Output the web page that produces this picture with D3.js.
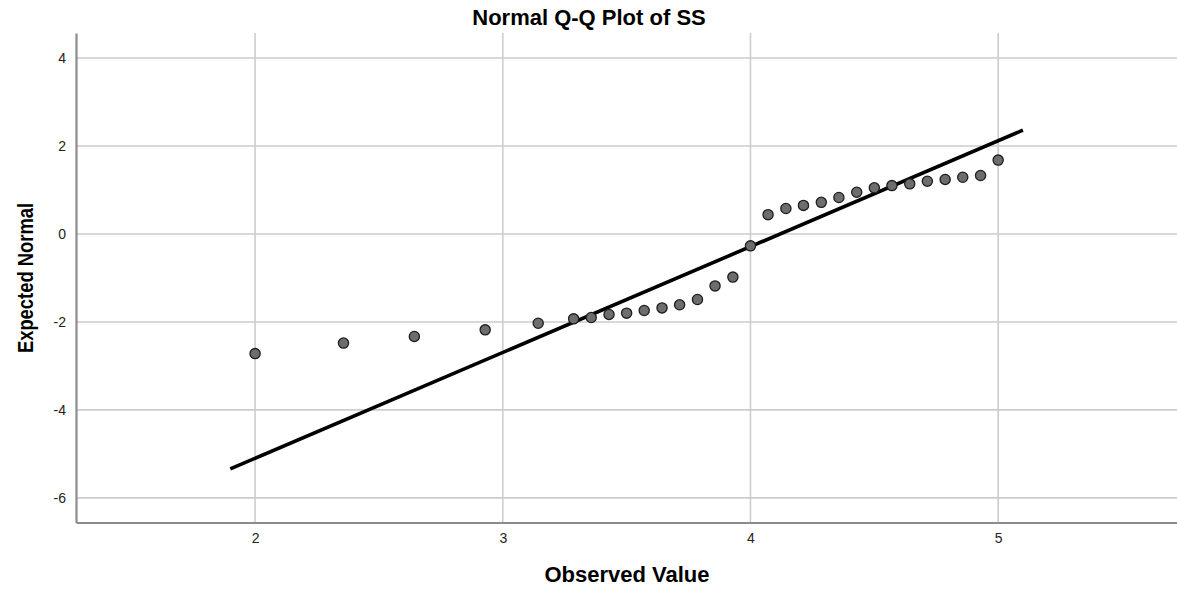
<!DOCTYPE html>
<html>
<head>
<meta charset="utf-8">
<script src="https://cdn.jsdelivr.net/npm/d3@7"></script>
<style>
  html, body { margin: 0; padding: 0; background: #fff; }
  svg { display: block; font-family: "Liberation Sans", Arial, sans-serif; }
</style>
</head>
<body>
<svg id="chart" width="1177" height="590"></svg>
<script>
// Observed values of SS (sorted) and their expected normal scores
const observed = [
  2.000, 2.357, 2.643, 2.929, 3.143, 3.286, 3.357, 3.429, 3.500, 3.571,
  3.643, 3.714, 3.786, 3.857, 3.929, 4.000, 4.071, 4.143, 4.214, 4.286,
  4.357, 4.429, 4.500, 4.571, 4.643, 4.714, 4.786, 4.857, 4.929, 5.000
];
const expectedNormal = [
  -2.72, -2.48, -2.33, -2.18, -2.03, -1.93, -1.90, -1.83, -1.80, -1.74,
  -1.68, -1.61, -1.49, -1.18, -0.98, -0.27, 0.44, 0.58, 0.65, 0.72,
  0.83, 0.95, 1.05, 1.10, 1.14, 1.20, 1.24, 1.29, 1.33, 1.68
];

// Reference line endpoints (observed, expected)
const refLineX = [1.90, 5.10];
const refLineY = [-5.34, 2.36];

const xTicks = [2, 3, 4, 5];
const yTicks = [-6, -4, -2, 0, 2, 4];
const xDomain = [1.277, 5.722];
const yDomain = [-6.56, 4.57];

const titleText = "Normal Q-Q Plot of SS";
const xLabel = "Observed Value";
const yLabel = "Expected Normal";

const plot = { left: 76, right: 1177, top: 33, bottom: 522.5 };

const svg = d3.select("#chart");

const x = d3.scaleLinear().domain(xDomain).range([plot.left, plot.right]);
const y = d3.scaleLinear().domain(yDomain).range([plot.bottom, plot.top]);

// Grid lines
const grid = svg.append("g");
grid.selectAll("line.h").data(yTicks).join("line")
  .attr("x1", plot.left).attr("x2", plot.right)
  .attr("y1", d => y(d)).attr("y2", d => y(d))
  .attr("stroke", "#cdcdcd").attr("stroke-width", 1.6);
grid.selectAll("line.v").data(xTicks).join("line")
  .attr("y1", plot.top).attr("y2", plot.bottom)
  .attr("x1", d => x(d)).attr("x2", d => x(d))
  .attr("stroke", "#cdcdcd").attr("stroke-width", 1.6);

// Axes (labels only, no tick marks)
const xAxis = svg.append("g")
  .attr("transform", `translate(0,${plot.bottom})`)
  .call(d3.axisBottom(x).tickValues(xTicks).tickSize(0).tickPadding(11).tickFormat(d3.format("d")));
const yAxis = svg.append("g")
  .attr("transform", `translate(${plot.left},0)`)
  .call(d3.axisLeft(y).tickValues(yTicks).tickSize(0).tickPadding(10).tickFormat(d => d < 0 ? "-" + Math.abs(d) : String(d)));

[xAxis, yAxis].forEach(g => {
  g.select(".domain").attr("stroke", "#8c8c8c").attr("stroke-width", 2.2);
  g.selectAll("text")
    .attr("fill", "#222")
    .style("font-size", "14px")
    .style("font-family", "'Liberation Sans', Arial, sans-serif");
});

// Reference line
svg.append("line")
  .attr("x1", x(refLineX[0])).attr("y1", y(refLineY[0]))
  .attr("x2", x(refLineX[1])).attr("y2", y(refLineY[1]))
  .attr("stroke", "#000").attr("stroke-width", 3.6)
  .attr("stroke-linecap", "butt");

// Points
svg.append("g").selectAll("circle")
  .data(observed.map((v, i) => [v, expectedNormal[i]]))
  .join("circle")
  .attr("cx", d => x(d[0]))
  .attr("cy", d => y(d[1]))
  .attr("r", 5.1)
  .attr("fill", "#6d6d6d")
  .attr("stroke", "#1e1e1e")
  .attr("stroke-width", 1.3);

// Titles
svg.append("text")
  .attr("x", 589).attr("y", 25)
  .attr("text-anchor", "middle")
  .style("font-size", "22px").style("font-weight", "bold")
  .attr("fill", "#000")
  .text(titleText);

svg.append("text")
  .attr("x", 627).attr("y", 582)
  .attr("text-anchor", "middle")
  .style("font-size", "22px").style("font-weight", "bold")
  .attr("fill", "#000")
  .text(xLabel);

svg.append("text")
  .attr("transform", "translate(33,278) rotate(-90) scale(0.92,1.12)")
  .attr("text-anchor", "middle")
  .style("font-size", "20px").style("font-weight", "bold")
  .attr("fill", "#000")
  .text(yLabel);
</script>
</body>
</html>
